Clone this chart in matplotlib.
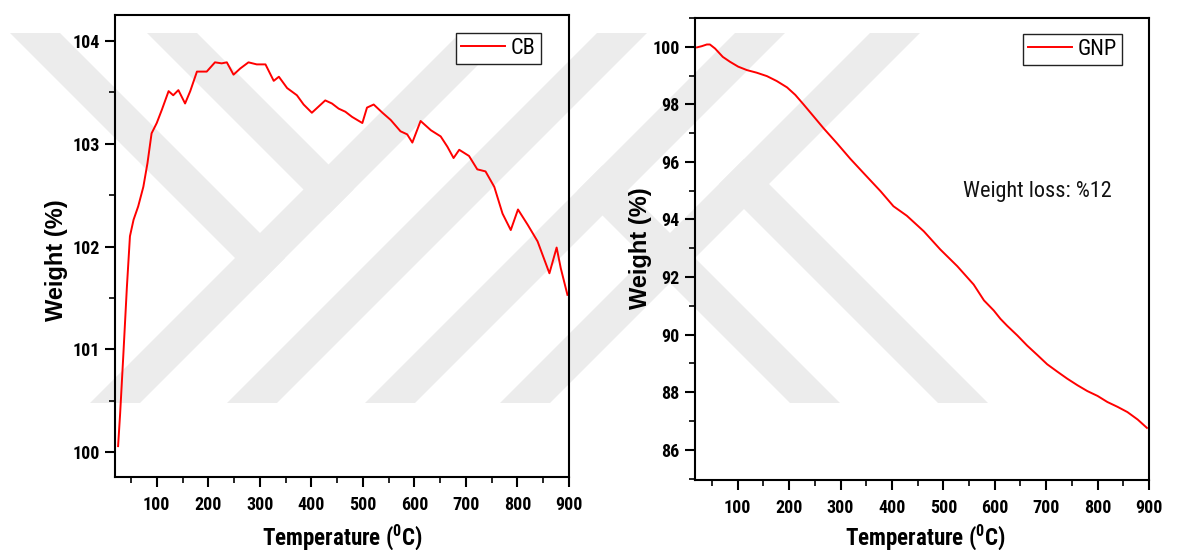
import matplotlib
matplotlib.use("Agg")
import matplotlib.pyplot as plt
from matplotlib.patches import Polygon
from matplotlib.ticker import MultipleLocator

# ---- data ----
cb_temp = [25, 29, 35, 42, 48, 55, 64, 74, 82, 90, 100, 110, 123, 132, 142,
           155, 165, 178, 197, 213, 226, 236, 249, 262, 278, 294, 311, 327,
           337, 353, 372, 385, 401, 414, 427, 440, 453, 466, 479, 499, 508,
           521, 538, 554, 573, 586, 596, 612, 632, 651, 664, 676, 687, 706,
           722, 738, 755, 771, 787, 801, 820, 839, 862, 876, 884, 897]
cb_weight = [100.06, 100.38, 100.93, 101.60, 102.10, 102.26, 102.39, 102.58,
             102.81, 103.10, 103.20, 103.33, 103.51, 103.47, 103.52, 103.39,
             103.51, 103.70, 103.70, 103.79, 103.78, 103.79, 103.67, 103.73,
             103.79, 103.77, 103.77, 103.61, 103.65, 103.54, 103.47, 103.38,
             103.30, 103.36, 103.42, 103.39, 103.34, 103.31, 103.26, 103.20,
             103.35, 103.38, 103.30, 103.23, 103.12, 103.09, 103.01, 103.22,
             103.13, 103.07, 102.97, 102.86, 102.94, 102.88, 102.75, 102.73,
             102.58, 102.32, 102.16, 102.36, 102.21, 102.05, 101.74, 101.99,
             101.79, 101.53]

gnp_temp = [21, 30, 40, 46, 56, 71, 85, 101, 118, 137, 157, 176, 196, 212,
            228, 244, 267, 293, 319, 345, 378, 403, 429, 462, 494, 527, 559,
            579, 598, 611, 624, 644, 663, 683, 702, 722, 741, 761, 780, 800,
            819, 839, 858, 878, 896]
gnp_weight = [99.98, 100.02, 100.08, 100.08, 99.94, 99.65, 99.48, 99.31,
              99.19, 99.10, 98.98, 98.81, 98.59, 98.33, 98.00, 97.66, 97.17,
              96.65, 96.11, 95.61, 94.98, 94.46, 94.13, 93.59, 92.96, 92.38,
              91.74, 91.19, 90.84, 90.55, 90.31, 89.97, 89.62, 89.29, 88.97,
              88.71, 88.47, 88.24, 88.04, 87.87, 87.66, 87.49, 87.31, 87.05,
              86.76]

x_ticks = [100, 200, 300, 400, 500, 600, 700, 800, 900]
cb_yticks = [100, 101, 102, 103, 104]
gnp_yticks = [86, 88, 90, 92, 94, 96, 98, 100]

W, H = 1181, 550
NARROW = ['Roboto Condensed', 'Liberation Sans', 'DejaVu Sans']
WIDE = ['Liberation Sans', 'DejaVu Sans']
plt.rcParams['font.family'] = NARROW

fig = plt.figure(figsize=(W / 100, H / 100), dpi=100)


def fx(x, y):
    # top-left pixel coords -> figure fraction
    return (x / W, 1 - y / H)


def px_box(l, t, r, b):
    return [l / W, 1 - b / H, (r - l) / W, (b - t) / H]


# ---- background watermark (light grey chevrons) ----
wm = '#ececec'
top, bot, bw = 33, 403, 50


def edge(c, y=None, s=None):
    # point on line y - x = c, cut by y = const or y + x = s
    if y is not None:
        return (y - c, y)
    return ((s - c) / 2, (s + c) / 2)


shapes = []
for a in [493, 630, 768, 903]:
    shapes.append([(a - top, top), (a + bw - top, top),
                   (a + bw - bot, bot), (a - bot, bot)])
for c, s in [(-27, 543), (-164, 543)]:
    shapes.append([edge(c + bw, y=top), edge(c, y=top), edge(c, s=s), edge(c + bw, s=s)])
for c, s in [(-437, 768), (-585, 903)]:
    shapes.append([edge(c, s=s), edge(c + bw, s=s), edge(c + bw, y=bot), edge(c, y=bot)])
for pts in shapes:
    fig.add_artist(Polygon([fx(x, y) for x, y in pts], closed=True,
                           transform=fig.transFigure, facecolor=wm,
                           edgecolor='none', zorder=-5))

ax1 = fig.add_axes(px_box(115, 15, 569, 477))
ax2 = fig.add_axes(px_box(695, 18, 1149, 480))

ax1.plot(cb_temp, cb_weight, color='#ff0000', lw=1.4, label='CB')
ax2.plot(gnp_temp, gnp_weight, color='#ff0000', lw=1.4, label='GNP')

ax1.set_xlim(19, 900)
ax1.set_ylim(99.76, 104.25)
ax2.set_xlim(17, 900)
ax2.set_ylim(84.95, 101.0)
ax1.set_yticks(cb_yticks)
ax2.set_yticks(gnp_yticks)
ax1.yaxis.set_minor_locator(MultipleLocator(0.5))
ax2.yaxis.set_minor_locator(MultipleLocator(1))

for ax in (ax1, ax2):
    ax.set_facecolor('none')
    ax.set_xticks(x_ticks)
    ax.xaxis.set_minor_locator(MultipleLocator(50))
    for sp in ax.spines.values():
        sp.set_linewidth(1.5)
    ax.tick_params(which='major', direction='out', length=7, width=1.5,
                   labelsize=13, pad=7)
    ax.tick_params(which='minor', direction='out', length=4, width=1.2)
    ax.tick_params(axis='y', which='major', pad=4)
    for lab in ax.get_xticklabels() + ax.get_yticklabels():
        lab.set_fontweight('bold')

# legends
leg_kw = dict(loc='upper left', borderaxespad=0, fancybox=False,
              framealpha=1, edgecolor='#222222', borderpad=0.22,
              handlelength=2.0, handletextpad=0.25,
              prop={'family': NARROW, 'size': 16},
              bbox_transform=fig.transFigure)
l1 = ax1.legend(bbox_to_anchor=fx(456, 33), **leg_kw)
l2 = ax2.legend(bbox_to_anchor=fx(1023, 34), **leg_kw)
for lg in (l1, l2):
    lg.get_frame().set_linewidth(1.0)

# axis labels
for xc in (342, 925):
    fig.text(*fx(xc, 537), 'Temperature ($\\mathregular{^0}$C)', ha='center',
             va='center', fontsize=16.5, fontweight='bold', family=NARROW)
fig.text(*fx(56, 260), 'Weight (%)', rotation=90, ha='center', va='center',
         fontsize=17, fontweight='bold', family=WIDE)
fig.text(*fx(640, 248), 'Weight (%)', rotation=90, ha='center', va='center',
         fontsize=17, fontweight='bold', family=WIDE)

fig.text(*fx(963, 192), 'Weight loss: %12', ha='left', va='center',
         fontsize=16, family=NARROW, color='#111111')

fig.savefig('out.png', dpi=100)
